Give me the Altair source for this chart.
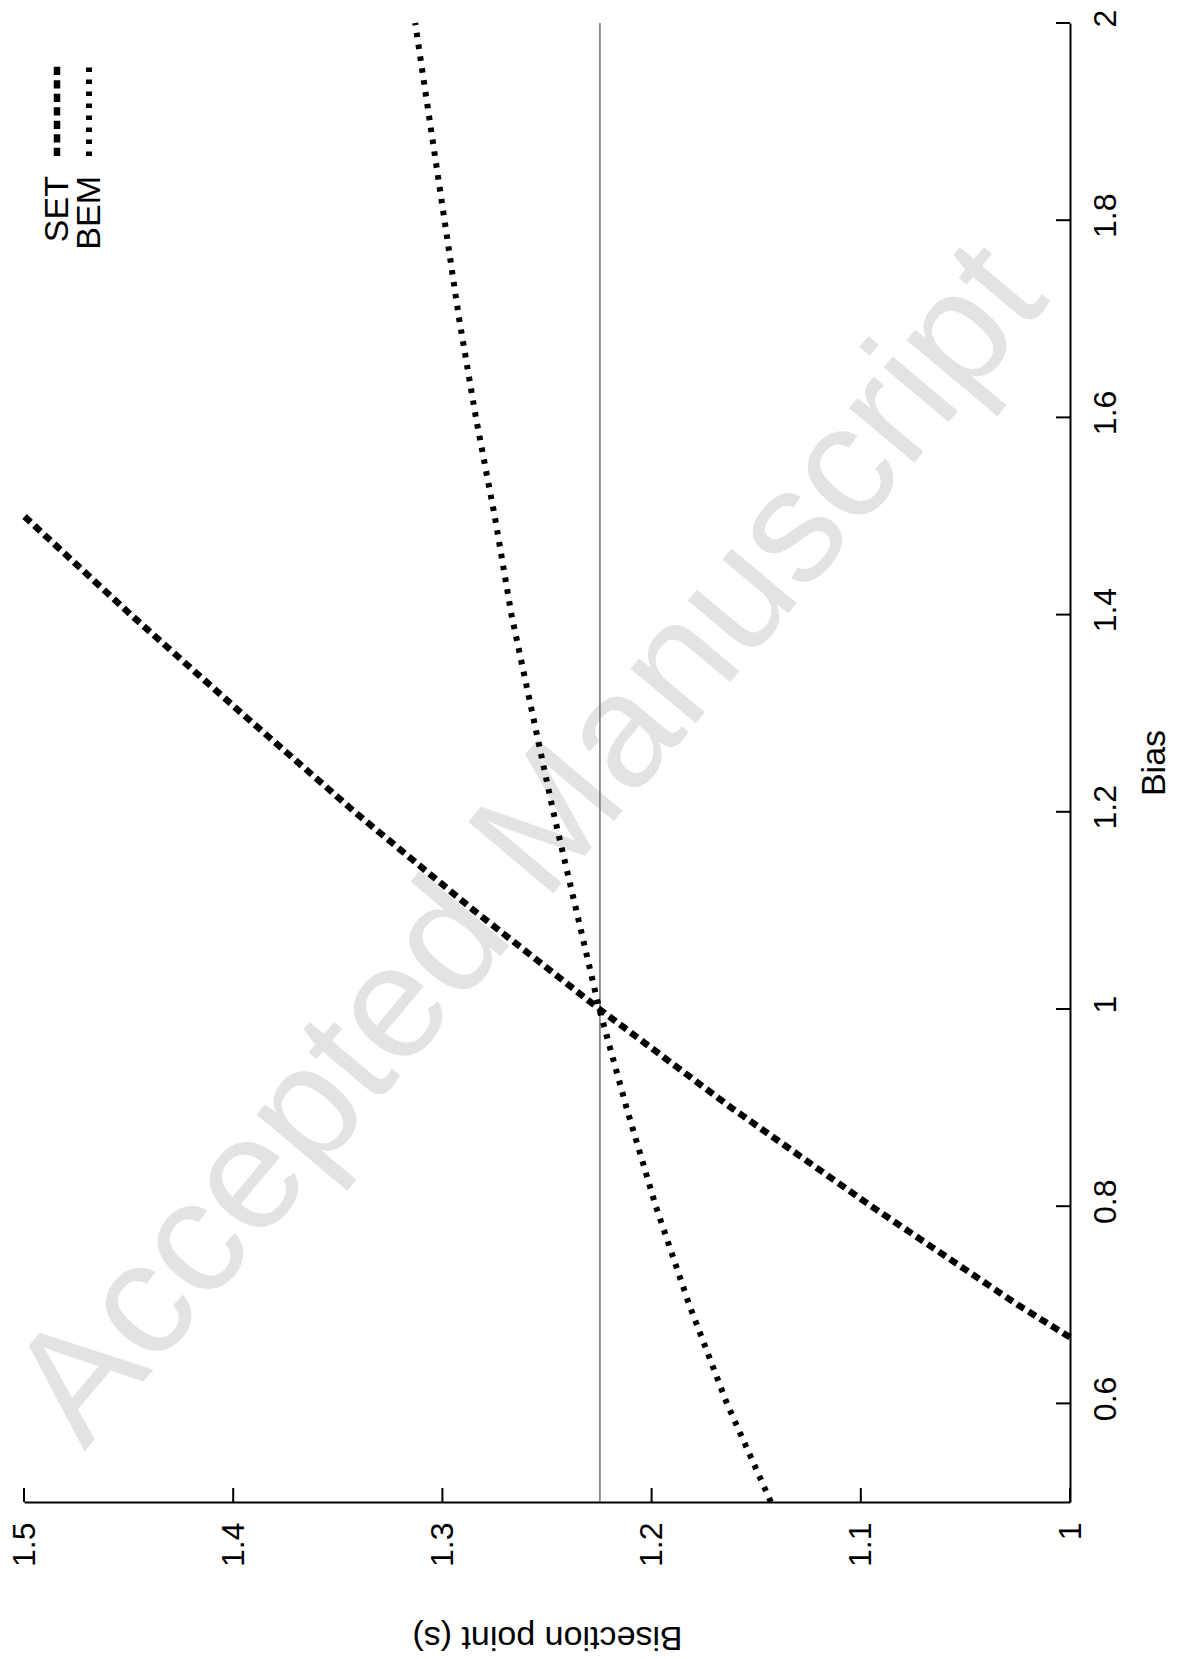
import altair as alt
import pandas as pd

# ---- data ----
set_bias = [0.667, 0.7, 0.8, 0.9, 1.0, 1.1, 1.2, 1.3, 1.4, 1.5]
set_bisection = [1.000, 1.025, 1.095, 1.162, 1.225, 1.285, 1.342, 1.396, 1.449, 1.500]

bem_bias = [0.5, 0.6, 0.7, 0.8, 0.9, 1.0, 1.1, 1.2, 1.3, 1.4, 1.5, 1.6, 1.7, 1.8, 1.9, 2.0]
bem_bisection = [1.143, 1.164, 1.182, 1.198, 1.212, 1.225, 1.236, 1.247, 1.257, 1.267,
                 1.275, 1.284, 1.292, 1.299, 1.306, 1.313]

reference_bisection = [1.2247]

bias_ticks = [0.6, 0.8, 1.0, 1.2, 1.4, 1.6, 1.8, 2.0]
bisection_ticks = [1.0, 1.1, 1.2, 1.3, 1.4, 1.5]

legend_labels = ["SET", "BEM"]
watermark_text = ["Accepted Manuscript"]
x_title = "Bisection point (s)"
y_title = "Bias"

FONT = "Liberation Sans"
W, H = 1046, 1479

set_df = pd.DataFrame({"bias": set_bias, "bisection": set_bisection})
bem_df = pd.DataFrame({"bias": bem_bias, "bisection": bem_bisection})
ref_df = pd.DataFrame({"bisection": reference_bisection})
bias_tick_df = pd.DataFrame({"bias": bias_ticks})
bis_tick_df = pd.DataFrame({"bisection": bisection_ticks})
wm_df = pd.DataFrame({"label": watermark_text})
one = pd.DataFrame({"k": [0]})

SET_DASH = [8.3, 5.2]
BEM_DASH = [4.5, 7.5]

X = alt.X(
    "bisection:Q",
    scale=alt.Scale(domain=[1.0, 1.5], reverse=True, nice=False, zero=False),
    axis=alt.Axis(
        values=bisection_ticks, format=".1~f", orient="bottom",
        labelAngle=270, labelAlign="right", labelBaseline="middle",
        labelPadding=20, labelFlush=False, labelOverlap=False,
        labelFont=FONT, labelFontSize=32, labelColor="black",
        ticks=False, tickSize=0, grid=False,
        domainColor="black", domainWidth=2,
        title=x_title, titleAngle=180, titleAlign="center",
        titleBaseline="alphabetic", titleX=W / 2, titleY=124,
        titleFont=FONT, titleFontSize=34, titleFontWeight="normal", titleColor="black",
    ),
)
Y = alt.Y(
    "bias:Q",
    scale=alt.Scale(domain=[0.5, 2.0], nice=False, zero=False),
    axis=alt.Axis(
        values=bias_ticks, format=".1~f", orient="right",
        labelAngle=270, labelAlign="center", labelBaseline="top",
        labelPadding=20, labelOffset=-5, labelFlush=False, labelOverlap=False,
        labelFont=FONT, labelFontSize=32, labelColor="black",
        ticks=False, tickSize=0, grid=False,
        domainColor="black", domainWidth=2,
        title=y_title, titleAngle=270, titleAlign="center",
        titleBaseline="alphabetic", titleX=94, titleY=H / 2,
        titleFont=FONT, titleFontSize=34, titleFontWeight="normal", titleColor="black",
    ),
)

watermark = alt.Chart(wm_df).mark_text(
    angle=310, fontSize=161, font=FONT, color="#e3e3e3",
    align="center", baseline="middle",
).encode(x=alt.value(507), y=alt.value(822), text="label:N")

ref_line = alt.Chart(ref_df).mark_rule(color="#777777", strokeWidth=1.6).encode(x=X)

set_line = alt.Chart(set_df).mark_line(
    color="black", strokeWidth=6.5, strokeDash=SET_DASH, strokeCap="butt"
).encode(x=X, y=Y, order=alt.Order("bias:Q"))

bem_line = alt.Chart(bem_df).mark_line(
    color="black", strokeWidth=6, strokeDash=BEM_DASH, strokeCap="butt"
).encode(x=X, y=Y, order=alt.Order("bias:Q"))

bias_tick_marks = alt.Chart(bias_tick_df).mark_rule(color="black", strokeWidth=2).encode(
    y=Y, x=alt.value(W - 14), x2=alt.value(W)
)
bis_tick_marks = alt.Chart(bis_tick_df).mark_rule(color="black", strokeWidth=2).encode(
    x=X, y=alt.value(H - 14), y2=alt.value(H)
)

leg_set_line = alt.Chart(one).mark_rule(
    color="black", strokeWidth=6.5, strokeDash=SET_DASH, strokeCap="butt"
).encode(x=alt.value(33), y=alt.value(133), y2=alt.value(39))
leg_bem_line = alt.Chart(one).mark_rule(
    color="black", strokeWidth=6, strokeDash=BEM_DASH, strokeCap="butt"
).encode(x=alt.value(65), y=alt.value(133), y2=alt.value(39))

leg_set_text = alt.Chart(one).mark_text(
    text=legend_labels[0], angle=270, align="right", baseline="alphabetic",
    fontSize=34, font=FONT, color="black",
).encode(x=alt.value(44), y=alt.value(153))
leg_bem_text = alt.Chart(one).mark_text(
    text=legend_labels[1], angle=270, align="right", baseline="alphabetic",
    fontSize=34, font=FONT, color="black",
).encode(x=alt.value(76), y=alt.value(153))

chart = alt.layer(
    watermark, ref_line, set_line, bem_line, bias_tick_marks, bis_tick_marks,
    leg_set_line, leg_bem_line, leg_set_text, leg_bem_text,
).properties(
    width=W, height=H,
    padding={"left": 16, "top": 15, "right": 106, "bottom": 149},
    autosize=alt.AutoSizeParams(type="none"),
).configure_view(
    strokeWidth=0
).configure_axis(
    labelFont=FONT, titleFont=FONT, labelFontSize=32, titleFontSize=34,
    labelColor="black", titleColor="black", titleFontWeight="normal",
)

chart.save("out.html", embed_options={"renderer": "svg", "actions": False})
